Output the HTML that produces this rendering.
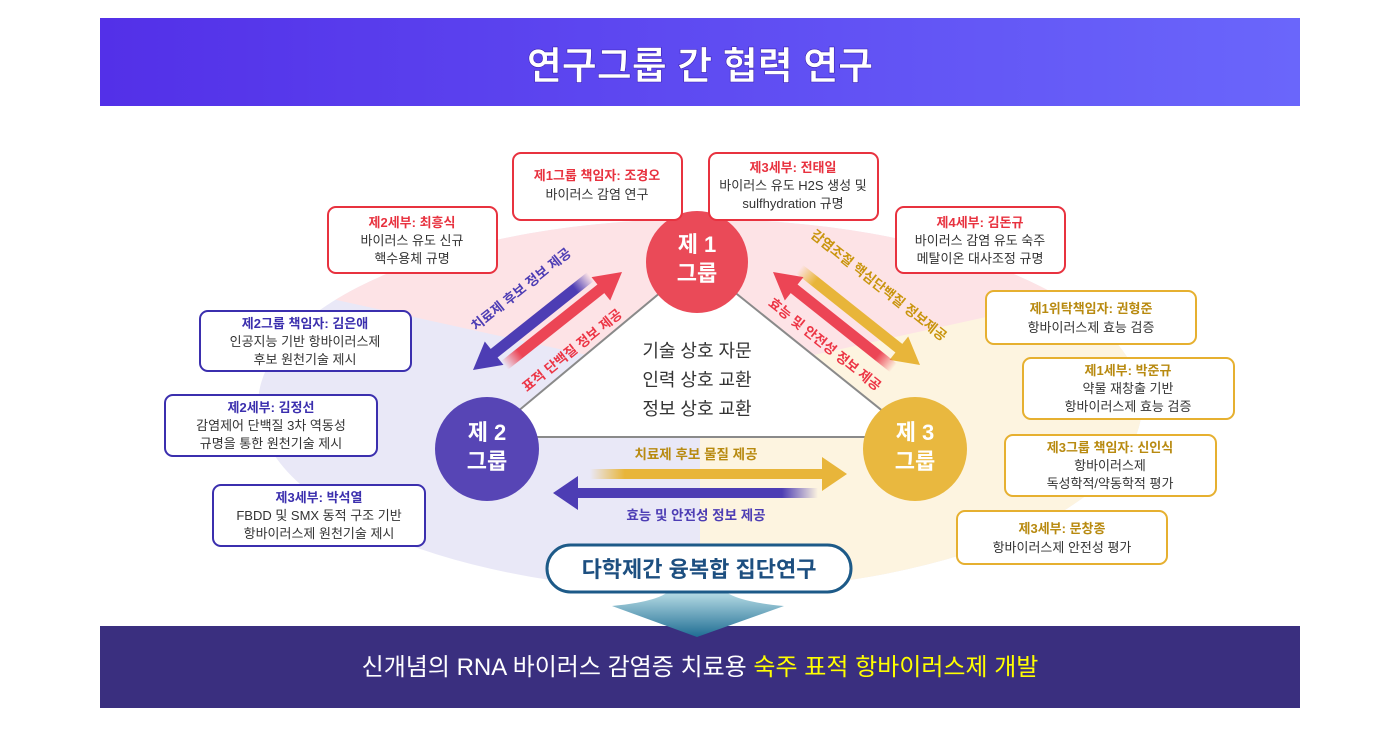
<!DOCTYPE html>
<html><head><meta charset="utf-8"><style>
body{margin:0;width:1400px;height:755px;background:#fff;overflow:hidden}
svg{display:block}
text{font-family:"Liberation Sans","Noto Sans CJK KR",sans-serif}
</style></head><body>
<svg width="1400" height="755" viewBox="0 0 1400 755" xmlns="http://www.w3.org/2000/svg">
<defs>
<linearGradient id="tg" x1="0" x2="1"><stop offset="0" stop-color="#5330e8"/><stop offset="1" stop-color="#6a66fb"/></linearGradient>
<clipPath id="ec"><ellipse cx="700" cy="405" rx="442" ry="186"/></clipPath>
<linearGradient id="fn" x1="0" y1="0" x2="0" y2="1"><stop offset="0" stop-color="#b8dde6"/><stop offset="1" stop-color="#1f6d93"/></linearGradient>
<linearGradient id="gB" x1="0" x2="1"><stop offset="0" stop-color="#4d3db4" stop-opacity="0"/><stop offset="0.15" stop-color="#4d3db4"/><stop offset="1" stop-color="#4d3db4"/></linearGradient>
<linearGradient id="gR" x1="0" x2="1"><stop offset="0" stop-color="#ec4555" stop-opacity="0"/><stop offset="0.15" stop-color="#ec4555"/><stop offset="1" stop-color="#ec4555"/></linearGradient>
<linearGradient id="gY" x1="0" x2="1"><stop offset="0" stop-color="#e8b53a" stop-opacity="0"/><stop offset="0.15" stop-color="#e8b53a"/><stop offset="1" stop-color="#e8b53a"/></linearGradient>
</defs>
<rect x="100" y="18" width="1200" height="88" fill="url(#tg)"/>
<text x="700" y="79" text-anchor="middle" font-size="38" font-weight="bold" fill="#fff" stroke="#3a1fb0" stroke-width="0.6">연구그룹 간 협력 연구</text>

<g clip-path="url(#ec)">
<rect x="200" y="200" width="1000" height="400" fill="#e9e8f7"/>
<polygon points="700,380 700,600 1200,600 1200,240" fill="#fdf4e0"/>
<polygon points="700,380 200,270 200,200 1200,200 1200,270" fill="#fde3e6"/>
</g>
<polygon points="697,262 487,437 915,437" fill="#fff"/>
<polyline points="697,262 487,437 915,437 697,262" fill="none" stroke="#8a8a8a" stroke-width="2"/>

<circle cx="697" cy="262" r="51" fill="#ea4a58"/>
<circle cx="487" cy="449" r="52" fill="#5745b5"/>
<circle cx="915" cy="449" r="52" fill="#e9b83f"/>
<g font-size="22" font-weight="bold" fill="#fff" text-anchor="middle">
<text x="697" y="252">제 1</text><text x="697" y="281">그룹</text>
<text x="487" y="440">제 2</text><text x="487" y="469">그룹</text>
<text x="915" y="440">제 3</text><text x="915" y="469">그룹</text>
</g>

<g font-size="18" fill="#333" text-anchor="middle">
<text x="697" y="357">기술 상호 자문</text>
<text x="697" y="386">인력 상호 교환</text>
<text x="697" y="415">정보 상호 교환</text>
</g>

<g transform="translate(473,370) rotate(-38.5)">
<rect x="18" y="-5.5" width="132" height="11" fill="url(#gB)" transform="rotate(180 84 0)"/>
<polygon points="0,0 27,-15 27,15" fill="#4d3db4"/>
</g>
<g transform="translate(622,272) rotate(141.5)">
<rect x="18" y="-5.5" width="132" height="11" fill="url(#gR)" transform="rotate(180 84 0)"/>
<polygon points="0,0 27,-15 27,15" fill="#ec4555"/>
</g>
<g transform="translate(920,365) rotate(-141.5)">
<rect x="18" y="-5.5" width="136" height="11" fill="url(#gY)" transform="rotate(180 86 0)"/>
<polygon points="0,0 27,-15 27,15" fill="#e8b53a"/>
</g>
<g transform="translate(773,272) rotate(38.5)">
<rect x="18" y="-5.5" width="136" height="11" fill="url(#gR)" transform="rotate(180 86 0)"/>
<polygon points="0,0 27,-15 27,15" fill="#ec4555"/>
</g>
<rect x="590" y="469" width="232" height="10" fill="url(#gY)"/>
<polygon points="847,474 822,457 822,491" fill="#e8b53a"/>
<rect x="578" y="488" width="240" height="10" fill="url(#gB)" transform="rotate(180 698 493)"/>
<polygon points="553,493 578,476 578,510" fill="#4d3db4"/>

<g font-size="13.5" font-weight="bold" text-anchor="middle">
<text transform="translate(524,293) rotate(-38.5)" fill="#4d3db4">치료제 후보 정보 제공</text>
<text transform="translate(575,354) rotate(-38.5)" fill="#ec3545">표적 단백질 정보 제공</text>
<text transform="translate(876,289) rotate(38.5)" fill="#c9950e">감염조절 핵심단백질 정보제공</text>
<text transform="translate(822,348) rotate(38.5)" fill="#ec3545">효능 및 안전성 정보 제공</text>
<text x="696" y="459" fill="#b88a10">치료제 후보 물질 제공</text>
<text x="696" y="520" fill="#4d3db4">효능 및 안전성 정보 제공</text>
</g>

<g stroke-width="2" fill="#fff">
<rect x="513" y="153" width="169" height="67" rx="8" stroke="#e8323f"/>
<rect x="709" y="153" width="169" height="67" rx="8" stroke="#e8323f"/>
<rect x="328" y="207" width="169" height="66" rx="8" stroke="#e8323f"/>
<rect x="896" y="207" width="169" height="66" rx="8" stroke="#e8323f"/>
<rect x="200" y="311" width="211" height="60" rx="8" stroke="#3b2fae"/>
<rect x="165" y="395" width="212" height="61" rx="8" stroke="#3b2fae"/>
<rect x="213" y="485" width="212" height="61" rx="8" stroke="#3b2fae"/>
<rect x="986" y="291" width="210" height="53" rx="8" stroke="#e6b030"/>
<rect x="1023" y="358" width="211" height="61" rx="8" stroke="#e6b030"/>
<rect x="1005" y="435" width="211" height="61" rx="8" stroke="#e6b030"/>
<rect x="957" y="511" width="210" height="53" rx="8" stroke="#e6b030"/>
</g>
<g font-size="13" text-anchor="middle" fill="#333">
<text x="597" y="180" fill="#e8323f" font-weight="bold">제1그룹 책임자: 조경오</text>
<text x="597" y="199">바이러스 감염 연구</text>
<text x="793" y="172" fill="#e8323f" font-weight="bold">제3세부: 전태일</text>
<text x="793" y="190">바이러스 유도 H2S 생성 및</text>
<text x="793" y="208">sulfhydration 규명</text>
<text x="412" y="227" fill="#e8323f" font-weight="bold">제2세부: 최흥식</text>
<text x="412" y="245">바이러스 유도 신규</text>
<text x="412" y="263">핵수용체 규명</text>
<text x="980" y="227" fill="#e8323f" font-weight="bold">제4세부: 김돈규</text>
<text x="980" y="245">바이러스 감염 유도 숙주</text>
<text x="980" y="263">메탈이온 대사조정 규명</text>
<text x="305" y="328" fill="#3b2fae" font-weight="bold">제2그룹 책임자: 김은애</text>
<text x="305" y="346">인공지능 기반 항바이러스제</text>
<text x="305" y="364">후보 원천기술 제시</text>
<text x="271" y="412" fill="#3b2fae" font-weight="bold">제2세부: 김정선</text>
<text x="271" y="430">감염제어 단백질 3차 역동성</text>
<text x="271" y="448">규명을 통한 원천기술 제시</text>
<text x="319" y="502" fill="#3b2fae" font-weight="bold">제3세부: 박석열</text>
<text x="319" y="520">FBDD 및 SMX 동적 구조 기반</text>
<text x="319" y="538">항바이러스제 원천기술 제시</text>
<text x="1091" y="313" fill="#b88a10" font-weight="bold">제1위탁책임자: 권형준</text>
<text x="1091" y="332">항바이러스제 효능 검증</text>
<text x="1128" y="375" fill="#b88a10" font-weight="bold">제1세부: 박준규</text>
<text x="1128" y="393">약물 재창출 기반</text>
<text x="1128" y="411">항바이러스제 효능 검증</text>
<text x="1110" y="452" fill="#b88a10" font-weight="bold">제3그룹 책임자: 신인식</text>
<text x="1110" y="470">항바이러스제</text>
<text x="1110" y="488">독성학적/약동학적 평가</text>
<text x="1062" y="533" fill="#b88a10" font-weight="bold">제3세부: 문창종</text>
<text x="1062" y="552">항바이러스제 안전성 평가</text>
</g>

<rect x="100" y="626" width="1200" height="82" fill="#3a2f7f"/>
<path d="M612,606 Q655,602 668,592 L726,592 Q740,602 784,606 L697,637 Z" fill="url(#fn)"/>
<rect x="547" y="545" width="304" height="47" rx="23.5" fill="#fff" stroke="#1d5a88" stroke-width="3"/>
<text x="699" y="577" text-anchor="middle" font-size="22" font-weight="bold" fill="#1d4f80">다학제간 융복합 집단연구</text>
<text x="700" y="675" text-anchor="middle" font-size="24" fill="#fff">신개념의 RNA 바이러스 감염증 치료용 <tspan fill="#ffff00">숙주 표적 항바이러스제 개발</tspan></text>
</svg>
</body></html>
